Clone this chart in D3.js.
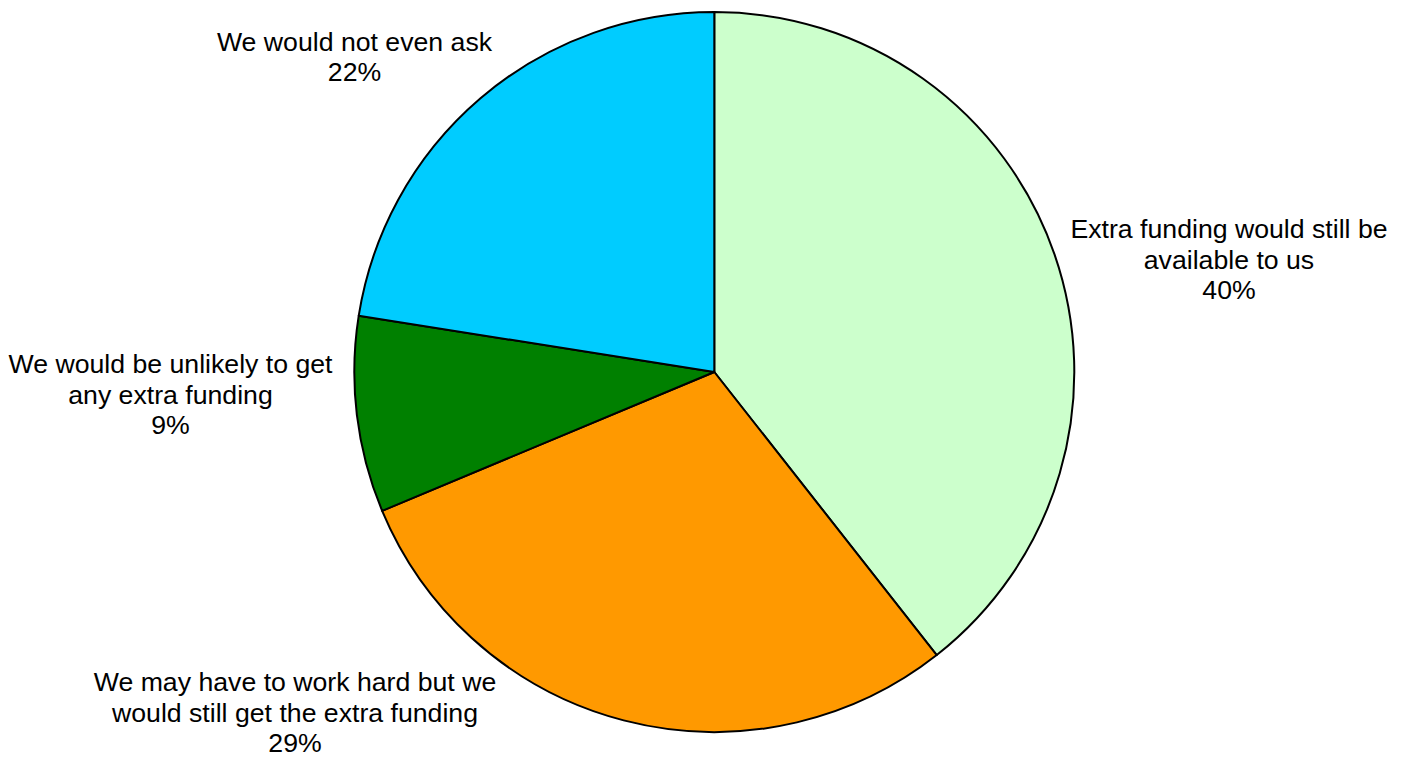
<!DOCTYPE html>
<html>
<head>
<meta charset="utf-8">
<script src="https://cdn.jsdelivr.net/npm/d3@7"></script>
<style>
  html, body { margin: 0; padding: 0; background: #fff; }
  svg { display: block; }
</style>
</head>
<body>
<svg id="chart" width="1406" height="757"></svg>
<script>
// ---- data ----
const categories = [
  "Extra funding would still be available to us",
  "We may have to work hard but we would still get the extra funding",
  "We would be unlikely to get any extra funding",
  "We would not even ask"
];
const values = [39.4, 29.3, 8.8, 22.5];
const percentLabels = ["40%", "29%", "9%", "22%"];
const labelLines = [
  ["Extra funding would still be", "available to us"],
  ["We may have to work hard but we", "would still get the extra funding"],
  ["We would be unlikely to get", "any extra funding"],
  ["We would not even ask"]
];
const colors = ["#CCFFCC", "#FF9900", "#008000", "#00CCFF"];

// ---- layout ----
const W = 1406, H = 757;
const cx = 714.3, cy = 372, R = 360;
const fontSize = 26.67, lineGap = 30.7;
// label anchor: centre x and first-line baseline y
const labelAnchors = [
  { x: 1229, y: 238 },
  { x: 295, y: 691 },
  { x: 170.5, y: 373 },
  { x: 354.5, y: 50.7 }
];

const svg = d3.select("#chart");
const g = svg.append("g").attr("transform", `translate(${cx},${cy})`);

const pie = d3.pie().sort(null).value(d => d)
  .startAngle(0).endAngle(2 * Math.PI);
const arc = d3.arc().innerRadius(0).outerRadius(R);

const arcs = pie(values);

g.selectAll("path.slice")
  .data(arcs)
  .join("path")
  .attr("class", "slice")
  .attr("d", arc)
  .attr("fill", (d, i) => colors[i])
  .attr("stroke", "#000")
  .attr("stroke-width", 2)
  .attr("stroke-linejoin", "round");

const labels = svg.selectAll("text.lbl")
  .data(arcs)
  .join("text")
  .attr("class", "lbl")
  .attr("text-anchor", "middle")
  .attr("font-family", "Arial, 'Liberation Sans', sans-serif")
  .attr("font-size", fontSize)
  .attr("fill", "#000");

labels.each(function(d, i) {
  const t = d3.select(this);
  const lines = labelLines[i].concat([percentLabels[i]]);
  lines.forEach((ln, j) => {
    t.append("tspan")
      .attr("x", labelAnchors[i].x)
      .attr("y", labelAnchors[i].y + j * lineGap)
      .text(ln);
  });
});
</script>
</body>
</html>
